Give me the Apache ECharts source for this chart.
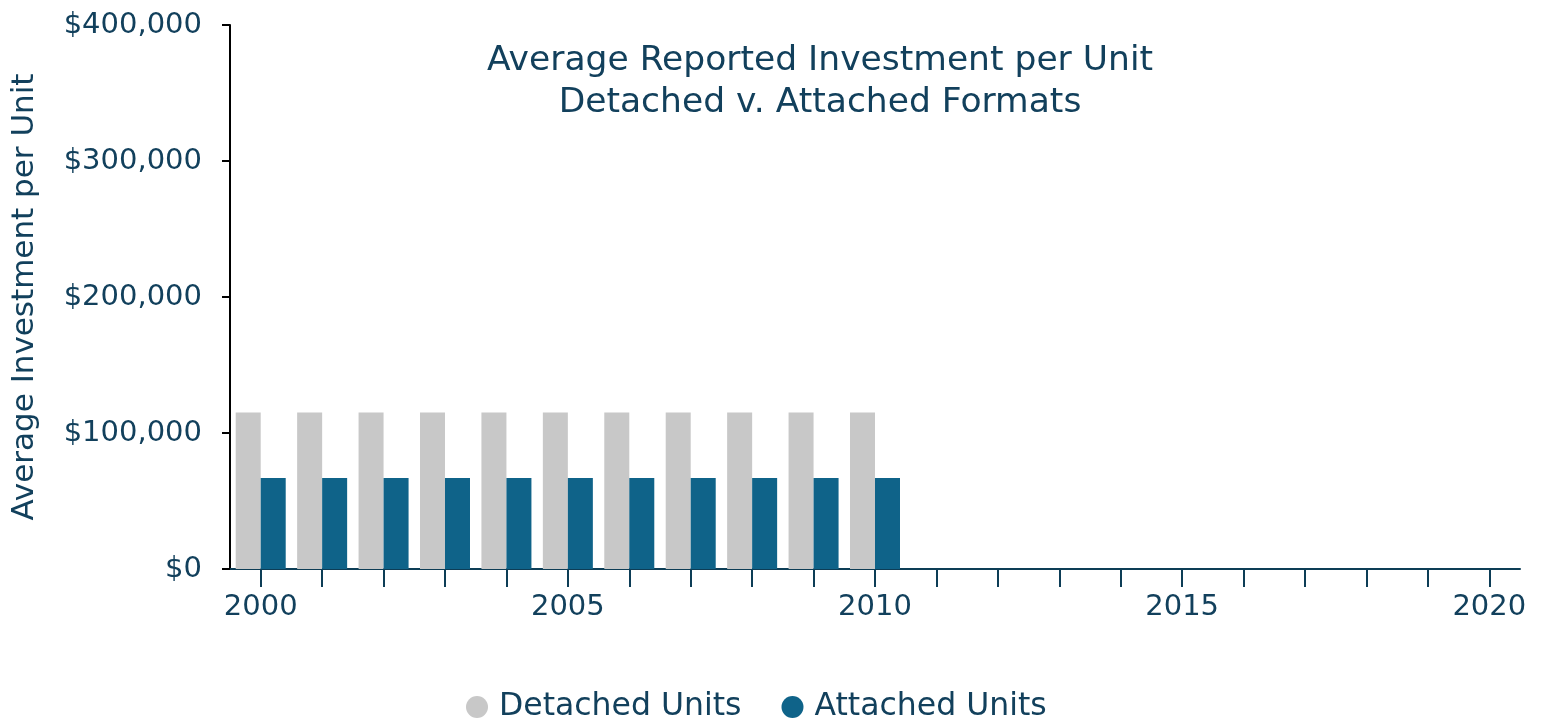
<!DOCTYPE html>
<html>
<head>
<meta charset="utf-8">
<script src="https://cdn.jsdelivr.net/npm/echarts@6/dist/echarts.min.js"></script>
<style>
  html, body { margin: 0; padding: 0; background: #fff; }
  #chart { width: 1543px; height: 719px; }
</style>
</head>
<body>
<div id="chart"></div>
<script>
// years on the x axis
const years = ['2000','2001','2002','2003','2004','2005','2006','2007','2008','2009','2010',
  '2011','2012','2013','2014','2015','2016','2017','2018','2019','2020'];
// average investment per unit (only 2000-2010 reported)
const detachedUnits = [115000,115000,115000,115000,115000,115000,115000,115000,115000,115000,115000,
  null,null,null,null,null,null,null,null,null,null];
const attachedUnits = [67000,67000,67000,67000,67000,67000,67000,67000,67000,67000,67000,
  null,null,null,null,null,null,null,null,null,null];
const yTicks = [0, 100000, 200000, 300000, 400000];

const navy = '#12405c';
const font = 'DejaVu Sans';

const chart = echarts.init(document.getElementById('chart'));
chart.setOption({
  animation: false,
  textStyle: { fontFamily: font, color: navy },
  title: {
    text: 'Average Reported Investment per Unit\nDetached v. Attached Formats',
    left: 815,
    textAlign: 'center',
    top: 35,
    textStyle: { fontFamily: font, fontSize: 34.5, fontWeight: 'normal', color: navy, lineHeight: 42 }
  },
  legend: {
    top: 686,
    left: 461,
    icon: 'circle',
    itemWidth: 22,
    itemHeight: 22,
    itemGap: 40,
    textStyle: { fontFamily: font, fontSize: 31.5, color: navy, padding: [0, 0, 0, 6] },
    data: ['Detached Units', 'Attached Units']
  },
  grid: { left: 230, right: 23, top: 25, bottom: 150, containLabel: false },
  xAxis: {
    type: 'category',
    data: years,
    axisLine: { lineStyle: { color: '#0d3d56', width: 2 } },
    axisTick: { show: true, alignWithLabel: true, interval: 0, length: 18, lineStyle: { color: '#0d3d56', width: 2 } },
    axisLabel: { interval: 4, fontFamily: font, fontSize: 29, color: navy, margin: 24 }
  },
  yAxis: {
    type: 'value',
    min: 0,
    max: yTicks[yTicks.length - 1],
    interval: yTicks[1] - yTicks[0],
    name: 'Average Investment per Unit',
    nameLocation: 'middle',
    nameGap: 190,
    nameTextStyle: { fontFamily: font, fontSize: 31, color: navy },
    axisLine: { show: true, lineStyle: { color: '#000', width: 2 } },
    axisTick: { show: true, length: 8, lineStyle: { color: '#000', width: 2 } },
    splitLine: { show: false },
    axisLabel: {
      fontFamily: font, fontSize: 29, color: navy, margin: 28,
      formatter: v => '$' + v.toLocaleString('en-US')
    }
  },
  series: [
    {
      name: 'Detached Units',
      type: 'bar',
      data: detachedUnits,
      barWidth: 25,
      barGap: '0%',
      itemStyle: { color: '#c8c8c8' }
    },
    {
      name: 'Attached Units',
      type: 'bar',
      data: attachedUnits,
      barWidth: 25,
      barGap: '0%',
      itemStyle: { color: '#0f6389' }
    }
  ]
});
</script>
</body>
</html>
